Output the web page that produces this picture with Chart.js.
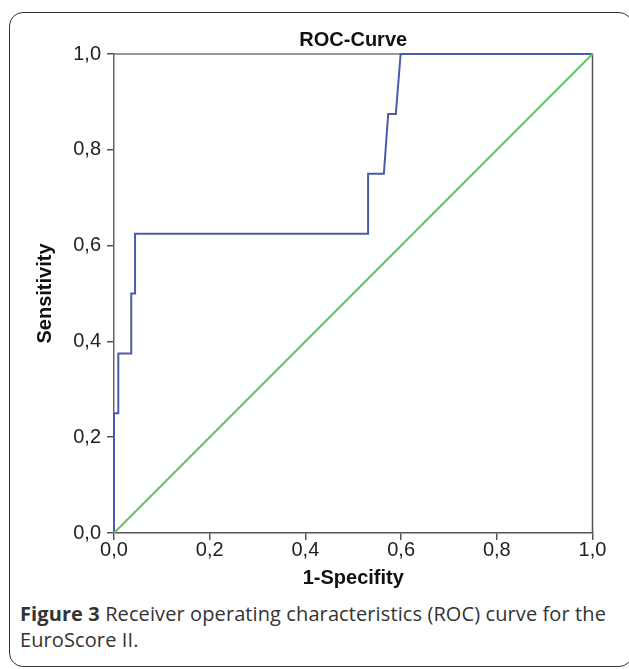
<!DOCTYPE html>
<html>
<head>
<meta charset="utf-8">
<script src="https://cdn.jsdelivr.net/npm/chart.js@4/dist/chart.umd.min.js"></script>
<style>
  html, body { margin: 0; padding: 0; background: #fff; width: 629px; height: 669px; overflow: hidden; }
  #frame { position: absolute; left: 9px; top: 12px; width: 624px; height: 655px; border: 1.5px solid #333; border-radius: 14px; box-sizing: border-box; }
  #wrap { position: absolute; left: 0; top: 0; width: 629px; height: 600px; }
  #caption { position: absolute; left: 20px; top: 601px; width: 610px; white-space: nowrap; font-family: "Open Sans", "Noto Sans", sans-serif; font-size: 20px; line-height: 26px; color: #333; letter-spacing: 0.1px; }
  #caption b { font-weight: 700; }
</style>
</head>
<body>
<div id="frame"></div>
<div id="wrap"><canvas id="c"></canvas></div>
<div id="caption"><b>Figure 3</b> Receiver operating characteristics (ROC) curve for the<br>EuroScore II.</div>
<script>
const rocX = [0, 0, 0.009, 0.009, 0.036, 0.036, 0.044, 0.044, 0.531, 0.531, 0.564, 0.573, 0.589, 0.599, 1];
const rocY = [0, 0.25, 0.25, 0.375, 0.375, 0.5, 0.5, 0.625, 0.625, 0.75, 0.75, 0.875, 0.875, 1, 1];
const refX = [0, 1];
const refY = [0, 1];
const tickValues = [0, 0.2, 0.4, 0.6, 0.8, 1.0];
const tickLabels = ['0,0', '0,2', '0,4', '0,6', '0,8', '1,0'];

function pts(xs, ys) { return xs.map((x, i) => ({ x: x, y: ys[i] })); }
function lbl(v) {
  const i = tickValues.findIndex(t => Math.abs(t - v) < 1e-6);
  return i >= 0 ? tickLabels[i] : '';
}

const boxPlugin = {
  id: 'box',
  beforeDatasetsDraw(chart) {
    const a = chart.chartArea, ctx = chart.ctx;
    ctx.save();
    ctx.lineWidth = 1.5;
    ctx.strokeStyle = '#777';
    ctx.beginPath(); ctx.moveTo(a.left, a.top); ctx.lineTo(a.right, a.top); ctx.stroke();
    ctx.strokeStyle = '#555';
    ctx.beginPath(); ctx.moveTo(a.right, a.top); ctx.lineTo(a.right, a.bottom); ctx.stroke();
    ctx.restore();
  }
};

Chart.defaults.font.family = '"Liberation Sans", Arial, sans-serif';
Chart.defaults.color = '#222';

new Chart(document.getElementById('c'), {
  type: 'scatter',
  data: {
    datasets: [
      { data: pts(refX, refY), showLine: true, borderColor: '#5cc85c', borderWidth: 2, pointRadius: 0, clip: 3 },
      { data: pts(rocX, rocY), showLine: true, borderColor: '#4a5ca8', borderWidth: 2, pointRadius: 0, clip: 3 }
    ]
  },
  options: {
    responsive: true,
    maintainAspectRatio: false,
    animation: false,
    events: [],
    layout: { padding: { left: 0, right: 36.5, top: 0, bottom: 0 } },
    plugins: {
      legend: { display: false },
      tooltip: { enabled: false },
      title: {
        display: true, text: 'ROC-Curve', color: '#111', fullSize: false,
        font: { size: 20, weight: 'bold' },
        padding: { top: 28, bottom: 2 }
      }
    },
    scales: {
      x: {
        type: 'linear', min: 0, max: 1,
        afterFit(s) { s.height = 67; },
        afterBuildTicks(s) { s.ticks = tickValues.map(v => ({ value: v })); },
        ticks: { callback: lbl, font: { size: 20 }, padding: -2, maxRotation: 0 },
        grid: { drawOnChartArea: false, drawTicks: true, tickLength: 7, color: '#555', lineWidth: 1.5 },
        border: { display: true, color: '#555', width: 1.5 },
        title: { display: true, text: '1-Specifity', color: '#111', font: { size: 20, weight: 'bold' }, padding: { top: 0, bottom: 10 } }
      },
      y: {
        type: 'linear', min: 0, max: 1,
        afterFit(s) { s.width = 114; },
        afterBuildTicks(s) { s.ticks = tickValues.map(v => ({ value: v })); },
        ticks: { callback: lbl, font: { size: 20 }, padding: 6 },
        grid: { drawOnChartArea: false, drawTicks: true, tickLength: 7, color: '#555', lineWidth: 1.5 },
        border: { display: true, color: '#666', width: 1.5 },
        title: { display: true, text: 'Sensitivity', color: '#111', font: { size: 20, weight: 'bold' }, padding: { top: 33, bottom: 0 } }
      }
    }
  },
  plugins: [boxPlugin]
});
</script>
</body>
</html>
